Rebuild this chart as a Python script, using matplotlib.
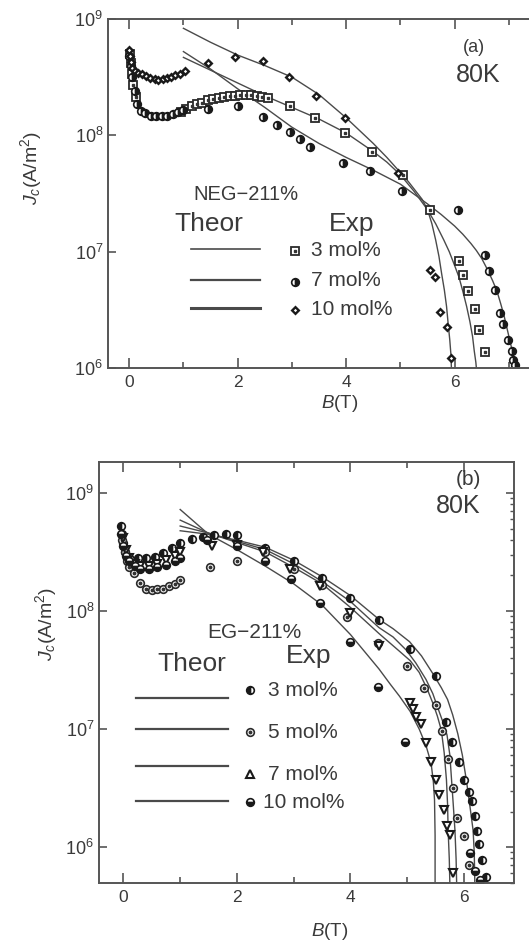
import numpy as np
import matplotlib
matplotlib.use("Agg")
from matplotlib import pyplot as plt
from matplotlib.lines import Line2D
from matplotlib.ticker import FixedLocator, LogLocator, NullFormatter

plt.rcParams["font.family"] = ["Liberation Sans", "DejaVu Sans"]
plt.rcParams["mathtext.fontset"] = "custom"
plt.rcParams["mathtext.rm"] = "Liberation Sans"
plt.rcParams["mathtext.it"] = "Liberation Sans:italic"

# ---- panel (a): NEG-211%, 80 K  (B in T, Jc given as log10 of A/m^2) ----
a_th3_B = [1.0, 1.5, 2.0, 2.5, 3.0, 3.5, 4.0, 4.5, 4.75, 5.0, 5.25, 5.5, 5.65, 5.8, 5.9, 6.0, 6.08,
           6.15, 6.22, 6.28, 6.33, 6.36, 6.39, 6.40]
a_th3_J = [8.67, 8.56, 8.45, 8.34, 8.24, 8.14, 8.02, 7.86, 7.77, 7.66, 7.52, 7.36, 7.24, 7.10, 7.0,
           6.88, 6.78, 6.66, 6.53, 6.40, 6.27, 6.15, 6.05, 6.0]
a_th7_B = [1.0, 1.5, 2.0, 2.5, 3.0, 3.5, 4.0, 4.5, 5.0, 5.5, 5.75, 6.0, 6.15, 6.3, 6.4, 6.5, 6.6,
           6.7, 6.78, 6.85, 6.91, 6.97, 7.01, 7.05, 7.08, 7.11]
a_th7_J = [8.72, 8.57, 8.40, 8.24, 8.07, 7.93, 7.81, 7.70, 7.58, 7.41, 7.32, 7.22, 7.15, 7.07, 7.01,
           6.94, 6.85, 6.75, 6.66, 6.55, 6.45, 6.33, 6.25, 6.17, 6.09, 6.0]
a_th10_B = [1.0, 1.5, 2.0, 2.5, 3.0, 3.5, 4.0, 4.5, 4.75, 5.0, 5.15, 5.3, 5.4, 5.5, 5.58, 5.65,
            5.71, 5.76, 5.81, 5.85, 5.88, 5.91, 5.93, 5.94]
a_th10_J = [8.92, 8.80, 8.69, 8.60, 8.50, 8.35, 8.15, 7.93, 7.81, 7.68, 7.60, 7.51, 7.45, 7.36, 7.24,
            7.10, 6.96, 6.81, 6.67, 6.53, 6.38, 6.24, 6.12, 6.0]

a_ex3_B = [0.02, 0.04, 0.06, 0.08, 0.12, 0.95, 1.05, 1.15, 1.25, 1.35, 1.45, 1.55, 1.65, 1.75, 1.85,
           1.95, 2.05, 2.15, 2.25, 2.35, 2.45, 2.55, 2.96, 3.43, 3.98, 4.47, 5.05, 5.54, 6.08, 6.16,
           6.25, 6.37, 6.45, 6.56]
a_ex3_J = [8.70, 8.62, 8.53, 8.43, 8.33, 8.20, 8.23, 8.25, 8.27, 8.28, 8.30, 8.31, 8.32, 8.33, 8.34,
           8.34, 8.35, 8.35, 8.35, 8.34, 8.33, 8.32, 8.25, 8.15, 8.02, 7.86, 7.66, 7.36, 6.92, 6.80,
           6.66, 6.51, 6.33, 6.14]
a_ex7_B = [0.0, 0.03, 0.06, 0.1, 0.15, 0.22, 0.3, 0.4, 0.5, 0.6, 0.7, 0.8, 0.9, 1.0, 1.46, 2.01,
           2.47, 2.72, 2.96, 3.15, 3.33, 3.95, 4.44, 5.02, 6.06, 6.56, 6.64, 6.74, 6.83, 6.89, 6.99,
           7.05, 7.08, 7.11]
a_ex7_J = [8.68, 8.60, 8.50, 8.38, 8.27, 8.21, 8.19, 8.17, 8.165, 8.165, 8.17, 8.18, 8.20, 8.22,
           8.23, 8.25, 8.16, 8.09, 8.03, 7.97, 7.90, 7.76, 7.69, 7.52, 7.36, 6.97, 6.83, 6.67, 6.47,
           6.38, 6.24, 6.15, 6.07, 6.03]
a_ex10_B = [0.0, 0.02, 0.04, 0.06, 0.1, 0.16, 0.23, 0.31, 0.39, 0.47, 0.54, 0.62, 0.69, 0.77, 0.85,
            0.94, 1.03, 1.46, 1.95, 2.47, 2.95, 3.44, 3.98, 4.96, 5.54, 5.64, 5.73, 5.85, 5.94]
a_ex10_J = [8.73, 8.68, 8.63, 8.58, 8.55, 8.54, 8.53, 8.51, 8.49, 8.48, 8.475, 8.48, 8.49, 8.50, 8.52,
            8.53, 8.55, 8.62, 8.67, 8.64, 8.50, 8.34, 8.15, 7.68, 6.84, 6.78, 6.48, 6.35, 6.09]

# ---- panel (b): EG-211%, 80 K ----
b_th3_B = [1.0, 1.5, 2.0, 2.5, 3.0, 3.5, 4.0, 4.5, 4.75, 5.04, 5.25, 5.45, 5.6, 5.71, 5.8, 5.89,
           5.97, 6.04, 6.1, 6.16, 6.18, 6.19]
b_th3_J = [8.68, 8.65, 8.60, 8.54, 8.43, 8.29, 8.13, 7.93, 7.85, 7.74, 7.62, 7.47, 7.35, 7.25, 7.12,
           6.96, 6.78, 6.57, 6.36, 6.14, 5.95, 5.69]
b_th5_B = [1.0, 1.5, 2.0, 2.5, 3.0, 3.5, 4.0, 4.5, 4.75, 4.98, 5.15, 5.33, 5.45, 5.53, 5.62, 5.70,
           5.75, 5.78, 5.81, 5.84, 5.86, 5.87]
b_th5_J = [8.72, 8.66, 8.59, 8.52, 8.40, 8.25, 8.08, 7.86, 7.78, 7.67, 7.56, 7.42, 7.30, 7.19, 7.07,
           6.95, 6.78, 6.57, 6.36, 6.14, 5.90, 5.69]
b_th7_B = [1.0, 1.5, 2.0, 2.5, 3.0, 3.5, 4.0, 4.5, 4.86, 5.05, 5.21, 5.35, 5.45, 5.53, 5.6, 5.65,
           5.69, 5.71, 5.72, 5.74, 5.75]
b_th7_J = [8.77, 8.66, 8.58, 8.50, 8.37, 8.23, 8.03, 7.81, 7.66, 7.58, 7.48, 7.34, 7.22, 7.11, 6.99,
           6.80, 6.57, 6.36, 6.14, 5.90, 5.69]
b_th10_B = [1.0, 1.5, 2.0, 2.5, 3.0, 3.5, 4.0, 4.5, 4.7, 4.86, 5.05, 5.21, 5.33, 5.42, 5.46, 5.48,
            5.49, 5.49]
b_th10_J = [8.86, 8.65, 8.52, 8.38, 8.23, 8.05, 7.80, 7.51, 7.38, 7.28, 7.15, 7.00, 6.86, 6.71, 6.55,
            6.40, 6.10, 5.69]

b_ex3_B = [-0.05, -0.03, 0.0, 0.03, 0.06, 0.12, 0.25, 0.4, 0.55, 0.7, 0.85, 1.0, 1.2, 1.4, 1.6, 1.8,
           2.0, 2.5, 3.0, 3.5, 4.0, 4.5, 5.05, 5.5, 5.68, 5.79, 5.91, 6.0, 6.09, 6.14, 6.2, 6.23, 6.26,
           6.32, 6.38]
b_ex3_J = [8.72, 8.65, 8.58, 8.50, 8.45, 8.44, 8.45, 8.45, 8.46, 8.49, 8.53, 8.58, 8.61, 8.63, 8.64,
           8.65, 8.64, 8.53, 8.42, 8.28, 8.11, 7.92, 7.68, 7.45, 7.06, 6.89, 6.72, 6.57, 6.47, 6.39,
           6.26, 6.14, 6.03, 5.89, 5.75]
b_ex5_B = [-0.02, 0.02, 0.06, 0.1, 0.18, 0.29, 0.4, 0.5, 0.6, 0.7, 0.8, 0.9, 1.0, 1.53, 2.0, 2.5,
           3.0, 3.5, 3.93, 4.49, 4.99, 5.3, 5.5, 5.62, 5.72, 5.8, 5.88, 6.0, 6.09]
b_ex5_J = [8.60, 8.50, 8.42, 8.37, 8.32, 8.24, 8.19, 8.18, 8.185, 8.19, 8.21, 8.23, 8.26, 8.375,
           8.42, 8.50, 8.36, 8.22, 7.95, 7.73, 7.53, 7.35, 7.20, 6.98, 6.75, 6.50, 6.25, 6.09, 5.85]
b_ex7_B = [0.0, 0.05, 0.1, 0.2, 0.3, 0.45, 0.6, 0.75, 0.9, 1.0, 1.56, 2.0, 2.46, 2.93, 3.46, 4.0,
           4.51, 5.04, 5.1, 5.15, 5.24, 5.33, 5.42, 5.5, 5.56, 5.64, 5.7, 5.76, 5.81]
b_ex7_J = [8.62, 8.52, 8.45, 8.40, 8.38, 8.38, 8.40, 8.43, 8.47, 8.50, 8.55, 8.56, 8.50, 8.36, 8.21,
           7.98, 7.70, 7.22, 7.17, 7.10, 7.04, 6.88, 6.72, 6.57, 6.44, 6.31, 6.18, 6.10, 5.78]
b_ex10_B = [-0.05, 0.0, 0.05, 0.1, 0.2, 0.3, 0.45, 0.6, 0.75, 0.9, 1.0, 1.47, 2.0, 2.5, 2.95, 3.46,
            3.99, 4.49, 4.96, 6.1, 6.2, 6.28]
b_ex10_J = [8.65, 8.55, 8.47, 8.42, 8.38, 8.36, 8.36, 8.37, 8.39, 8.42, 8.45, 8.60, 8.55, 8.42, 8.27,
            8.07, 7.74, 7.36, 6.89, 5.95, 5.80, 5.72]

legend_a = ["3 mol%", "7 mol%", "10 mol%"]
legend_b = ["3 mol%", "5 mol%", "7 mol%", "10 mol%"]

W, H = 529, 944
INK = "#3a3a3a"
LINE = "#4a4a4a"


def fx(x):
    return x / W


def fy(y):
    return 1 - y / H


def j(vals):
    return 10 ** np.asarray(vals)


# marker styles
sty_sq = dict(marker="s", ms=5.5, mfc="white", mec="#2a2a2a", mew=1.3, ls="none")
sty_half_r = dict(marker="o", ms=5.5, fillstyle="right", mfc="#1a1a1a", mfcalt="white", mec="#1a1a1a", mew=1.2, ls="none")
sty_dia = dict(marker="D", ms=3.4, mfc="white", mec="#1a1a1a", mew=1.7, ls="none")
sty_half_l = dict(marker="o", ms=5.5, fillstyle="left", mfc="#1a1a1a", mfcalt="white", mec="#1a1a1a", mew=1.2, ls="none")
sty_dot = dict(marker="o", ms=5.5, mfc="white", mec="#2a2a2a", mew=1.2, ls="none")
sty_tri = dict(marker="v", ms=6.0, mfc="white", mec="#1a1a1a", mew=1.5, ls="none")
sty_half_b = dict(marker="o", ms=5.5, fillstyle="bottom", mfc="#1a1a1a", mfcalt="white", mec="#1a1a1a", mew=1.2, ls="none")


def style_axes(ax, xlim, ylim, right_spine):
    ax.set_yscale("log")
    ax.set_xlim(*xlim)
    ax.set_ylim(*ylim)
    ax.xaxis.set_major_locator(FixedLocator([0, 2, 4, 6]))
    ax.xaxis.set_minor_locator(FixedLocator([1, 3, 5, 7]))
    ax.yaxis.set_major_locator(FixedLocator([1e6, 1e7, 1e8, 1e9]))
    ax.yaxis.set_minor_formatter(NullFormatter())
    for s in ax.spines.values():
        s.set_color("#555")
        s.set_linewidth(1.4)
    ax.tick_params(axis="x", which="both", direction="in", top=True, colors="#555",
                   labelcolor=INK, labelsize=12.5, pad=5)
    ax.tick_params(axis="x", which="major", length=7, width=1.2)
    ax.tick_params(axis="x", which="minor", length=4, width=1.2)
    ax.tick_params(axis="y", which="major", direction="in", length=6, width=1.2, colors="#555",
                   labelcolor=INK, labelsize=13, right=right_spine)
    if right_spine:
        ax.yaxis.set_minor_locator(LogLocator(base=10, subs=np.arange(2, 10)))
        ax.tick_params(axis="y", which="minor", direction="in", length=3, width=1.0,
                       left=False, right=True, colors="#555")
    else:
        ax.yaxis.set_minor_locator(FixedLocator([]))
        ax.spines["right"].set_visible(False)


fig = plt.figure(figsize=(W / 100, H / 100), dpi=100)

# ---------------- panel (a) ----------------
ax1 = fig.add_axes([fx(108), fy(368), (529 - 108) / W, (368 - 19) / H])
style_axes(ax1, (-0.39, 7.37), (1e6, 1e9), right_spine=False)
for B, J in [(a_th3_B, a_th3_J), (a_th7_B, a_th7_J), (a_th10_B, a_th10_J)]:
    ax1.plot(B, j(J), color=LINE, lw=1.0)
ax1.plot(a_ex3_B, j(a_ex3_J), **sty_sq)
ax1.plot(a_ex3_B, j(a_ex3_J), marker="s", ms=1.6, color="#333", ls="none")
ax1.plot(a_ex7_B, j(a_ex7_J), **sty_half_r)
ax1.plot(a_ex10_B, j(a_ex10_J), **sty_dia)

fig.text(fx(474), fy(48), "(a)", fontsize=13, color=INK, ha="center", va="center")
fig.text(fx(478), fy(75), "80K", fontsize=18, color=INK, ha="center", va="center")
fig.text(fx(246), fy(195), "NEG\u2212211%", fontsize=14.5, color=INK, ha="center", va="center")
fig.text(fx(209), fy(224), "Theor", fontsize=19, color=INK, ha="center", va="center")
fig.text(fx(352), fy(224), "Exp", fontsize=19, color=INK, ha="center", va="center")
a_rows = [249, 280, 308]
a_lw = [1.2, 1.6, 2.2]
a_styles = [sty_sq, sty_half_r, sty_dia]
for k, lab in enumerate(legend_a):
    y = a_rows[k]
    fig.add_artist(Line2D([fx(191), fx(260)], [fy(y), fy(y)], color=LINE, lw=a_lw[k]))
    fig.add_artist(Line2D([fx(295)], [fy(y + 2)], **a_styles[k]))
    fig.text(fx(311), fy(y + 1), lab, fontsize=15, color=INK, ha="left", va="center")
fig.add_artist(Line2D([fx(295)], [fy(a_rows[0] + 2)], marker="s", ms=1.6, color="#333", ls="none"))

fig.text(fx(31), fy(168), "$J_c$(A/m$^2$)", fontsize=14, color=INK, rotation=90,
         ha="center", va="center")
fig.text(fx(340), fy(404), "$B$(T)", fontsize=13.5, color=INK, ha="center", va="center")

# ---------------- panel (b) ----------------
ax2 = fig.add_axes([fx(99), fy(883), (514 - 99) / W, (883 - 462) / H])
style_axes(ax2, (-0.43, 6.88), (4.96e5, 1.83e9), right_spine=True)
for B, J in [(b_th3_B, b_th3_J), (b_th5_B, b_th5_J), (b_th7_B, b_th7_J), (b_th10_B, b_th10_J)]:
    ax2.plot(B, j(J), color=LINE, lw=1.0)
ax2.plot(b_ex3_B, j(b_ex3_J), **sty_half_l)
ax2.plot(b_ex5_B, j(b_ex5_J), **sty_dot)
ax2.plot(b_ex5_B, j(b_ex5_J), marker="o", ms=1.8, color="#333", ls="none")
ax2.plot(b_ex7_B, j(b_ex7_J), **sty_tri)
ax2.plot(b_ex10_B, j(b_ex10_J), **sty_half_b)

fig.text(fx(468), fy(479), "(b)", fontsize=15, color=INK, ha="center", va="center")
fig.text(fx(458), fy(506), "80K", fontsize=18, color=INK, ha="center", va="center")
fig.text(fx(254), fy(632), "EG\u2212211%", fontsize=15, color=INK, ha="center", va="center")
fig.text(fx(192), fy(664), "Theor", fontsize=19, color=INK, ha="center", va="center")
fig.text(fx(309), fy(656), "Exp", fontsize=19, color=INK, ha="center", va="center")
b_rows = [698, 729, 766, 801]
b_mark_y = [690, 732, 774, 802]
b_text_x = [268, 268, 268, 263]
b_styles = [sty_half_l, sty_dot, dict(sty_tri, marker="^"), sty_half_b]
for k, lab in enumerate(legend_b):
    y = b_rows[k]
    fig.add_artist(Line2D([fx(136), fx(228)], [fy(y), fy(y)], color=LINE, lw=1.6))
    fig.add_artist(Line2D([fx(250)], [fy(b_mark_y[k])], **b_styles[k]))
    fig.text(fx(b_text_x[k]), fy(b_mark_y[k]), lab, fontsize=15, color=INK, ha="left", va="center")
fig.add_artist(Line2D([fx(250)], [fy(b_mark_y[1])], marker="o", ms=1.8, color="#333", ls="none"))

fig.text(fx(46), fy(624), "$J_c$(A/m$^2$)", fontsize=14, color=INK, rotation=90,
         ha="center", va="center")
fig.text(fx(330), fy(931), "$B$(T)", fontsize=13.5, color=INK, ha="center", va="center")

fig.savefig("out.png", dpi=100)
